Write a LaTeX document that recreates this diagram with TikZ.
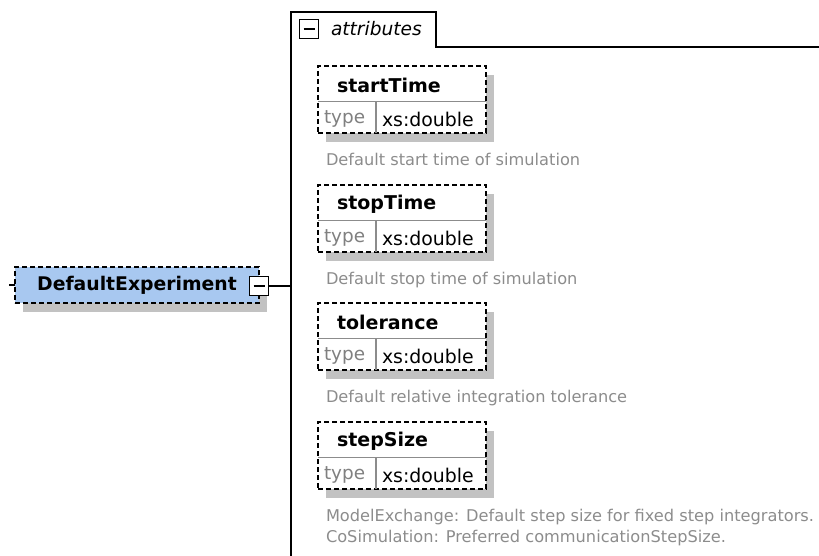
\documentclass[tikz,border=0pt]{standalone}
\usepackage{fontspec}
\setmainfont{DejaVu Sans}
\usetikzlibrary{positioning,shadows}
\definecolor{elemblue}{HTML}{A8C8F0}
\definecolor{descgray}{HTML}{8C8C8C}
\begin{document}
\begin{tikzpicture}[x=1pt,y=-1pt,line width=1.3pt,
  every node/.style={inner sep=0pt,outer sep=0pt},
  shade/.style={drop shadow={shadow xshift=8pt,shadow yshift=-9pt,fill=black!24,opacity=1}},
  elem/.style={draw,dash pattern=on 5pt off 3pt,fill=elemblue,shade,minimum width=244pt,minimum height=36pt,font=\fontsize{18.8}{20}\selectfont\bfseries},
  attr/.style={draw,dash pattern=on 5pt off 3pt,fill=white,shade,minimum width=168pt,minimum height=67pt},
  coll/.style={draw,fill=white,minimum size=19pt,path picture={\draw ([xshift=4pt]path picture bounding box.west) -- ([xshift=-4pt]path picture bounding box.east);}},
  ttl/.style={anchor=west,font=\fontsize{19}{20}\selectfont\bfseries},
  typ/.style={anchor=west,text=black!50,font=\fontsize{18.4}{20}\selectfont},
  val/.style={anchor=west,font=\fontsize{18.9}{20}\selectfont},
  dsc/.style={anchor=north west,align=left,text=descgray,font=\fontsize{16.2}{21}\selectfont},
  divline/.style={draw=black!45}]
\useasboundingbox (0,0) rectangle (819,556);
\coordinate (frm) at (291,12);
\coordinate (tab) at (436,47);
\draw (291,556) -- (frm) -| (tab) -- (819,47);
\node[coll] (tabcol) at (309,29) {};
\node[anchor=west,font=\fontsize{18.6}{20}\selectfont\itshape] (attrs) at (331,29) {attributes};
\node[elem] (exp) at (137,285) {DefaultExperiment};
\node[coll] (col) at (259,286) {};
\draw (col.east) -- (col.east -| frm);
\draw (exp.west) -- ++(-6,0);
\foreach \ty/\nm/\txt [count=\i] in {85/startTime/Default start time of simulation,
    204/stopTime/Default stop time of simulation,
    322/tolerance/Default relative integration tolerance,
    441/stepSize/{ModelExchange: Default step size for fixed step integrators.\\CoSimulation: Preferred communicationStepSize.}}{
  \node[attr] (attr\i) at (402,\ty+14.5) {};
  \draw[divline] ([yshift=-2pt]attr\i.west) -- ([yshift=-2pt]attr\i.east)
    ([xshift=58pt,yshift=-2pt]attr\i.west) -- ([xshift=58pt]attr\i.south west);
  \node[ttl] (ttl\i) at (337,\ty) {\nm};
  \node[typ] (typ\i) at (324,\ty+34) {type};
  \node[val] (val\i) at (382,\ty+34) {xs:double};
  \node[dsc] (dsc\i) at (326,\ty+68) {\txt};
}
\end{tikzpicture}
\end{document}
